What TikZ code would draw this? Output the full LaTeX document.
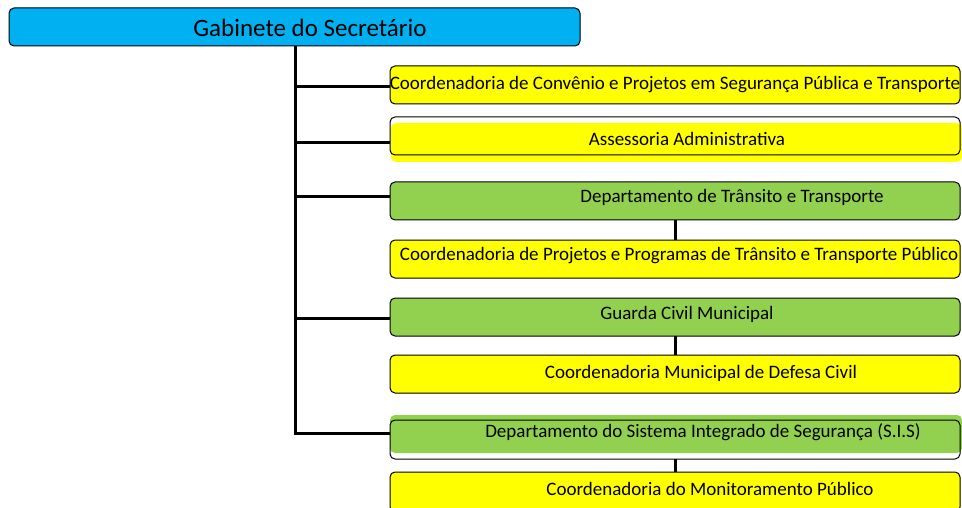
\documentclass[tikz,border=0pt]{standalone}
\usepackage{fontspec}
\setmainfont{Carlito}
\definecolor{topblue}{HTML}{00B0F0}
\definecolor{boxyellow}{HTML}{FFFF00}
\definecolor{boxgreen}{HTML}{92D050}
\begin{document}
\begin{tikzpicture}[x=1pt,y=-1pt,
  box/.style={draw=black, line width=1pt, rounded corners=5pt},
  ybox/.style={box, fill=boxyellow},
  gbox/.style={box, fill=boxgreen},
  lbl/.style={font=\fontsize{19}{22}\selectfont, inner sep=0pt, anchor=center},
  conn/.style={line width=3pt}]
\useasboundingbox (0,0) rectangle (962,508);
% top box
\draw[box, fill=topblue] (9,8) rectangle (580,46);
\node[font=\fontsize{25}{28}\selectfont, inner sep=0pt] (top) at (310,27.5) {Gabinete do Secretário};
\coordinate (topb) at (295,46);
% box 1
\draw[ybox] (390,66) rectangle (960,104);
\node[lbl] (b1) at (675,85) {Coordenadoria de Convênio e Projetos em Segurança Pública e Transporte};
% box 2
\fill[boxyellow, rounded corners=5pt] (391,123) rectangle (962,162);
\draw[box] (390,117) rectangle (960,155);
\node[lbl] (b2) at (687,139) {Assessoria Administrativa};
% box 3
\draw[gbox] (390,182) rectangle (960,220);
\node[lbl] (b3) at (732,197) {Departamento de Trânsito e Transporte};
% box 4
\draw[ybox] (390,240) rectangle (960,278);
\node[lbl] (b4) at (679,256) {Coordenadoria de Projetos e Programas de Trânsito e Transporte Público};
% box 5
\draw[gbox] (390,298) rectangle (960,336);
\node[lbl] (b5) at (687,314) {Guarda Civil Municipal};
% box 6
\draw[ybox] (390,355) rectangle (960,393);
\node[lbl] (b6) at (701,373) {Coordenadoria Municipal de Defesa Civil};
% box 7
\fill[boxgreen, rounded corners=5pt] (390,415) rectangle (962,453);
\draw[box] (390,420) rectangle (960,459);
\node[lbl] (b7) at (703,432) {Departamento do Sistema Integrado de Segurança (S.I.S)};
% box 8
\draw[ybox] (390,472) rectangle (960,512);
\node[lbl] (b8) at (710,489) {Coordenadoria do Monitoramento Público};
% connectors
\coordinate (c1) at (390,87);
\coordinate (c2) at (390,143);
\coordinate (c3) at (390,197);
\coordinate (c5) at (390,318);
\coordinate (c7) at (390,433);
\draw[conn] (topb) |- (c7);
\draw[conn] (topb |- c1) -- (c1);
\draw[conn] (topb |- c2) -- (c2);
\draw[conn] (topb |- c3) -- (c3);
\draw[conn] (topb |- c5) -- (c5);
\draw[conn] (675,220) -- (675,240);
\draw[conn] (675,336) -- (675,355);
\draw[conn] (675,459) -- (675,472);
\end{tikzpicture}
\end{document}
